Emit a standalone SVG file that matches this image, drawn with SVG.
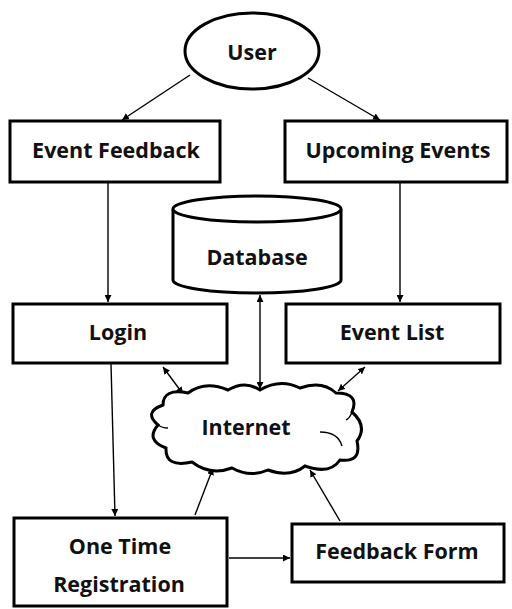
<svg xmlns="http://www.w3.org/2000/svg" width="512" height="609" viewBox="0 0 512 609">
  <style>
    .shape { fill: #fff; stroke: #000; stroke-width: 3; }
    .label { font-family: "Open Sans", "Liberation Sans", sans-serif; font-weight: bold; font-size: 21.5px; fill: #111; text-anchor: middle; dominant-baseline: central; }
    .wire { fill: none; stroke: #000; stroke-width: 1.4; }
  </style>
  <defs>
    <marker id="head" viewBox="0 0 10 10" refX="10" refY="5" markerWidth="7" markerHeight="7" orient="auto-start-reverse" markerUnits="userSpaceOnUse">
      <path d="M0,0 L10,5 L0,10 Z" fill="#000"/>
    </marker>
  </defs>
  <rect width="512" height="609" fill="#fff"/>

  <g id="connectors">
    <line class="wire" x1="190" y1="75" x2="122" y2="120" marker-end="url(#head)"/>
    <line class="wire" x1="308" y1="78" x2="380" y2="120" marker-end="url(#head)"/>
    <line class="wire" x1="108" y1="183" x2="108" y2="302" marker-end="url(#head)"/>
    <line class="wire" x1="400" y1="183" x2="400" y2="302" marker-end="url(#head)"/>
    <line class="wire" x1="260" y1="295" x2="260" y2="389" marker-start="url(#head)" marker-end="url(#head)"/>
    <line class="wire" x1="163" y1="367" x2="183" y2="394" marker-start="url(#head)" marker-end="url(#head)"/>
    <line class="wire" x1="365" y1="367" x2="338" y2="391" marker-start="url(#head)" marker-end="url(#head)"/>
    <line class="wire" x1="111" y1="364" x2="115" y2="516" marker-end="url(#head)"/>
    <line class="wire" x1="195" y1="515" x2="213" y2="468" marker-end="url(#head)"/>
    <line class="wire" x1="340" y1="521" x2="310" y2="470" marker-end="url(#head)"/>
    <line class="wire" x1="229" y1="558" x2="290" y2="558" marker-end="url(#head)"/>
  </g>

  <g id="user">
    <ellipse class="shape" cx="252" cy="51" rx="67" ry="38"/>
    <text class="label" x="252" y="51">User</text>
  </g>

  <g id="event-feedback">
    <rect class="shape" x="10" y="121" width="210" height="61"/>
    <text class="label" x="116" y="149">Event Feedback</text>
  </g>

  <g id="upcoming-events">
    <rect class="shape" x="285" y="121" width="222" height="61"/>
    <text class="label" x="398" y="149">Upcoming Events</text>
  </g>

  <g id="database">
    <path class="shape" d="M173,209 L173,280 A84,13 0 0 0 341,280 L341,209"/>
    <ellipse class="shape" cx="257" cy="209" rx="84" ry="13"/>
    <text class="label" x="257" y="256">Database</text>
  </g>

  <g id="login">
    <rect class="shape" x="13" y="304" width="214" height="59"/>
    <text class="label" x="118" y="331">Login</text>
  </g>

  <g id="event-list">
    <rect class="shape" x="286" y="304" width="214" height="59"/>
    <text class="label" x="392" y="331">Event List</text>
  </g>

  <g id="internet">
    <path class="shape" d="M163,405 Q163,388 188,393 Q205,380 228,390 Q245,380 260,390 Q280,378 300,388 Q322,380 336,393 Q360,393 352,412 Q368,426 357,441 Q362,463 340,460 Q330,475 305,466 Q290,478 268,470 Q250,478 232,468 Q210,476 192,462 Q165,468 166,448 Q145,440 158,425 Q143,412 163,405 Z"/>
    <path class="wire" stroke-width="3" d="M320,432 Q338,432 342,446"/>
    <path class="wire" stroke-width="3" d="M352,412 Q350,418 346,420"/>
    <path class="wire" stroke-width="3" d="M158,425 Q162,428 168,428"/>
    <text class="label" x="246" y="426">Internet</text>
  </g>

  <g id="one-time-registration">
    <rect class="shape" x="14" y="518" width="213" height="88"/>
    <text class="label" x="120" y="545">One Time</text>
    <text class="label" x="119" y="583">Registration</text>
  </g>

  <g id="feedback-form">
    <rect class="shape" x="292" y="524" width="212" height="58"/>
    <text class="label" x="397" y="550">Feedback Form</text>
  </g>
</svg>
